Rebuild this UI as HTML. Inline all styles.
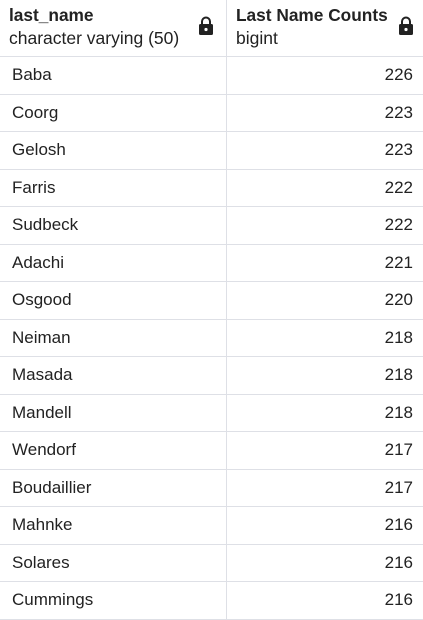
<!DOCTYPE html>
<html><head><meta charset="utf-8"><style>
body{margin:0;width:423px;height:620px;background:#fff;font-family:"Liberation Sans",sans-serif;color:#222;overflow:hidden;position:relative}
.hl{position:absolute;left:0;width:423px;height:1px;background:#dee0e6}
.vl{position:absolute;top:0;width:1px;height:620px;background:#dee0e6}
.t{position:absolute;font-size:17px;white-space:nowrap}
.h{position:absolute;font-size:17.3px;font-weight:bold;white-space:nowrap}
.s{position:absolute;font-size:17.5px;white-space:nowrap}
.lock{position:absolute}
</style></head><body>
<div class="vl" style="left:226px"></div>
<div class="h" style="left:9px;top:5px">last_name</div>
<div class="s" style="left:9px;top:28px">character varying (50)</div>
<div class="h" style="left:236px;top:5px">Last Name Counts</div>
<div class="s" style="left:236px;top:28px">bigint</div>
<svg class="lock" style="left:198px;top:16px" width="16" height="20" viewBox="0 0 16 20"><path d="M4 8V5.5a4 4 0 0 1 8 0V8" fill="none" stroke="#222" stroke-width="2"/><rect x="1" y="8" width="14" height="11" rx="1.5" fill="#222"/><circle cx="8" cy="13.5" r="1.6" fill="#fff"/></svg>
<svg class="lock" style="left:398px;top:16px" width="16" height="20" viewBox="0 0 16 20"><path d="M4 8V5.5a4 4 0 0 1 8 0V8" fill="none" stroke="#222" stroke-width="2"/><rect x="1" y="8" width="14" height="11" rx="1.5" fill="#222"/><circle cx="8" cy="13.5" r="1.6" fill="#fff"/></svg>
<div id="rows"></div>
<script>
const names=["Baba","Coorg","Gelosh","Farris","Sudbeck","Adachi","Osgood","Neiman","Masada","Mandell","Wendorf","Boudaillier","Mahnke","Solares","Cummings"];
const counts=[226,223,223,222,222,221,220,218,218,218,217,217,216,216,216];
const root=document.getElementById('rows');
for(let i=0;i<=names.length;i++){
  const l=document.createElement('div');l.className='hl';l.style.top=Math.round(56+i*37.5)+'px';
  
  
  root.appendChild(l);
}
names.forEach((n,i)=>{
  const y=56+i*37.5+9;
  const a=document.createElement('div');a.className='t';a.style.left='12px';a.style.top=y+'px';a.textContent=n;
  
  
  root.appendChild(a);
  const b=document.createElement('div');b.className='t';b.style.right='10px';b.style.top=y+'px';b.textContent=counts[i];
  
  
  root.appendChild(b);
});
</script>
</body></html>
